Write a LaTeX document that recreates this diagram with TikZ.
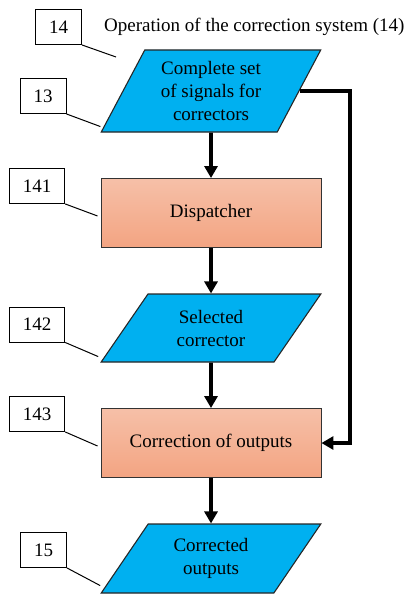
\documentclass[tikz,border=0pt]{standalone}
\usepackage{fontspec}
\setmainfont{Liberation Serif}
\usetikzlibrary{shapes.geometric,arrows.meta,positioning,calc}
\definecolor{dataBlue}{RGB}{0,176,240}
\definecolor{procTop}{RGB}{246,192,168}
\definecolor{procBot}{RGB}{243,164,130}

\begin{document}
\begin{tikzpicture}[
x=1pt, y=-1pt,
node distance=45.5pt,
font=\rmfamily\fontsize{19}{23}\selectfont,
data/.style={
    draw=black!85,
    line width=1.1pt,
    fill=dataBlue,
    trapezium,
    trapezium stretches=true,
    trapezium left angle=57,
    trapezium right angle=123,
    minimum width=220pt,
    minimum height=68pt,
    align=center
},
process/.style={
    draw=black!80,
    line width=0.9pt,
    top color=procTop,
    bottom color=procBot,
    minimum width=220pt,
    minimum height=69pt,
    align=center
},
tag/.style={draw, line width=0.9pt, fill=white, inner xsep=13.5pt, minimum height=35pt},
leader/.style={line width=1pt},
arrow/.style={-{Triangle[width=13pt,length=12pt]}, line width=3.8pt}
]
\useasboundingbox (0,0) rectangle (415,607);

\node[data, trapezium left angle=62, trapezium right angle=118, minimum height=82pt] (signals) at (211,91) {Complete set\\of signals for\\correctors};
\node[process, below=of signals] (disp) {Dispatcher};
\node[data, below=of disp] (selected) {Selected\\corrector};
\node[process, below=of selected] (corr) {Correction of outputs};
\node[data, below=of corr, minimum height=69pt] (outputs) {Corrected\\outputs};

\node[anchor=west, inner sep=0pt] (title) at (104,27) {Operation of the correction system (14)};

\node[tag] (t14) at (58.5,27) {14};
\node[tag] (t13) at (43,96) {13};
\node[tag] (t141) at (37,186) {141};
\node[tag] (t142) at (37,324.5) {142};
\node[tag] (t143) at (37,414) {143};
\node[tag] (t15) at (43.5,550) {15};
\coordinate (sys) at (116,57);

\draw[leader] (t14.south east) -- (sys);
\draw[leader] (t13.south east) -- ([yshift=6pt]signals.bottom left corner);
\draw[leader] (t141.south east) -- ([xshift=-3pt,yshift=-3pt]disp.west);
\draw[leader] (t142.south east) -- ([xshift=-2pt,yshift=6pt]selected.bottom left corner);
\draw[leader] (t143.south east) -- ([xshift=-3pt,yshift=-3pt]corr.west);
\draw[leader] (t15.south east) -- ([yshift=8pt]outputs.bottom left corner);

\draw[arrow] (signals) -- (disp);
\draw[arrow] (disp) -- (selected);
\draw[arrow] (selected) -- (corr);
\draw[arrow] (corr) -- (outputs);
\draw[arrow] (signals.east) -- ++(50,0) |- (corr.east);

\end{tikzpicture}
\end{document}
